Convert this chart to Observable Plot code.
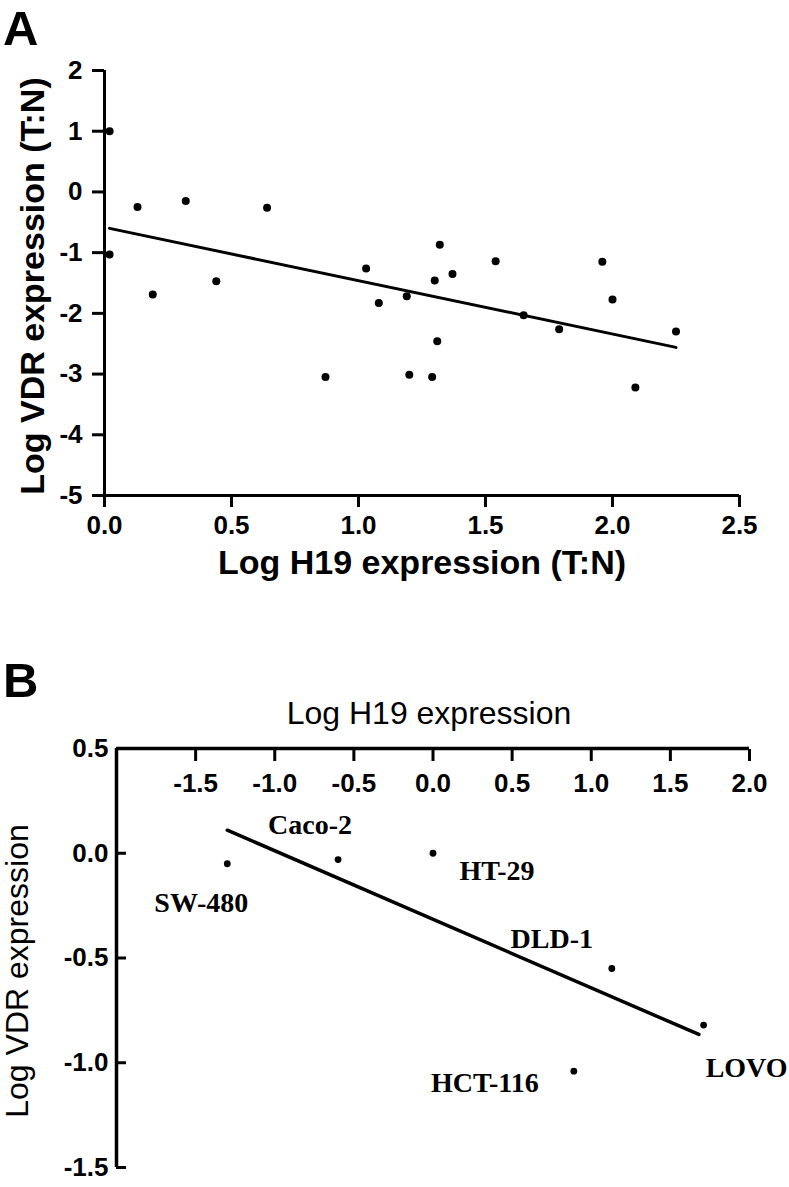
<!DOCTYPE html>
<html>
<head>
<meta charset="utf-8">
<script src="https://cdn.jsdelivr.net/npm/d3@7"></script>
<script src="https://cdn.jsdelivr.net/npm/@observablehq/plot@0.6"></script>
<style>
  body { margin: 0; background: #fff; }
  #wrap { position: relative; width: 789px; height: 1187px; font-family: "Liberation Sans", Arial, sans-serif; color: #000; }
  .panel { position: absolute; left: 0; }
  .tag { position: absolute; font-weight: bold; font-size: 49px; line-height: 1; }
</style>
</head>
<body>
<div id="wrap">
  <div id="a" class="panel" style="top:0px"></div>
  <div id="b" class="panel" style="top:600px"></div>
  <div class="tag" style="left:3px;top:4px">A</div>
  <div class="tag" style="left:3px;top:656px">B</div>
</div>
<script>
// ---------- Panel A: tumour samples ----------
const aH19 = [0.02, 0.02, 0.13, 0.19, 0.32, 0.44, 0.64, 0.87, 1.03, 1.08, 1.19, 1.20, 1.29, 1.30, 1.31, 1.32, 1.37, 1.54, 1.65, 1.79, 1.96, 2.00, 2.09, 2.25];
const aVDR = [1.00, -1.03, -0.25, -1.69, -0.15, -1.47, -0.26, -3.05, -1.26, -1.83, -1.72, -3.01, -3.05, -1.46, -2.46, -0.87, -1.35, -1.14, -2.03, -2.26, -1.15, -1.77, -3.22, -2.30];
const aFitX = [0.02, 2.25];
const aFitY = [-0.60, -2.56];
const aXTicks = [0, 0.5, 1, 1.5, 2, 2.5];
const aYTicks = [2, 1, 0, -1, -2, -3, -4, -5];
const aXLabel = "Log H19 expression (T:N)";
const aYLabel = "Log VDR expression (T:N)";

// ---------- Panel B: cell lines ----------
const cellLines = ["SW-480", "Caco-2", "HT-29", "DLD-1", "HCT-116", "LOVO"];
const bH19 = [-1.30, -0.60, 0.00, 1.13, 0.89, 1.71];
const bVDR = [-0.05, -0.03, 0.00, -0.55, -1.04, -0.82];
const bFitX = [-1.30, 1.68];
const bFitY = [0.11, -0.865];
const bXTicks = [-1.5, -1.0, -0.5, 0.0, 0.5, 1.0, 1.5, 2.0];
const bYTicks = [0.5, 0.0, -0.5, -1.0, -1.5];
const bXLabel = "Log H19 expression";
const bYLabel = "Log VDR expression";

const sans = '"Liberation Sans", Arial, sans-serif';
const serif = '"Liberation Serif", "Times New Roman", serif';

const aPts = aH19.map((x, i) => ({x, y: aVDR[i]}));
const aFit = aFitX.map((x, i) => ({x, y: aFitY[i]}));

const plotA = Plot.plot({
  width: 789, height: 600,
  marginLeft: 104, marginRight: 50, marginTop: 70, marginBottom: 105,
  x: {domain: [aXTicks[0], aXTicks[aXTicks.length - 1]]},
  y: {domain: [aYTicks[aYTicks.length - 1], aYTicks[0]]},
  style: {fontFamily: sans, color: "#000", background: "#fff", overflow: "visible"},
  marks: [
    Plot.ruleX([aXTicks[0]], {strokeWidth: 3}),
    Plot.ruleY([aYTicks[aYTicks.length - 1]], {strokeWidth: 3}),
    Plot.axisX({ticks: aXTicks, tickFormat: d => d.toFixed(1), tickSize: 12, tickPadding: 8, strokeWidth: 3,
      fontSize: 26, fontWeight: "bold", label: null}),
    Plot.axisY({ticks: aYTicks, tickFormat: d => String(d), tickSize: 12, tickPadding: 10, strokeWidth: 3,
      fontSize: 26, fontWeight: "bold", label: null}),
    Plot.line(aFit, {x: "x", y: "y", strokeWidth: 3, stroke: "#000"}),
    Plot.dot(aPts, {x: "x", y: "y", r: 4, fill: "#000", stroke: null}),
    Plot.text([aXLabel], {text: d => d, frameAnchor: "bottom", textAnchor: "middle", dy: 78, fontSize: 34, fontWeight: "bold"}),
    Plot.text([aYLabel], {text: d => d, frameAnchor: "left", textAnchor: "middle", rotate: -90, dx: -71, dy: 3, fontSize: 34, fontWeight: "bold"})
  ]
});
document.getElementById("a").appendChild(plotA);

const bPts = bH19.map((x, i) => ({x, y: bVDR[i], name: cellLines[i]}));
const bFit = bFitX.map((x, i) => ({x, y: bFitY[i]}));
const labelOffset = {
  "SW-480": [-26, 39], "Caco-2": [-28, -35], "HT-29": [64, 18],
  "DLD-1": [-60, -29], "HCT-116": [-89, 12], "LOVO": [43, 43]
};

const plotB = Plot.plot({
  width: 789, height: 587,
  marginLeft: 116, marginRight: 40, marginTop: 148, marginBottom: 20,
  x: {domain: [-2, bXTicks[bXTicks.length - 1]]},
  y: {domain: [bYTicks[bYTicks.length - 1], bYTicks[0]]},
  style: {fontFamily: sans, color: "#000", background: "#fff", overflow: "visible"},
  marks: [
    Plot.ruleX([-2], {strokeWidth: 3.5}),
    Plot.ruleY([bYTicks[0]], {strokeWidth: 3.5}),
    Plot.axisX({anchor: "top", ticks: bXTicks, tickFormat: d => d.toFixed(1), tickSize: -12, tickPadding: -13,
      lineAnchor: "top", strokeWidth: 3, fontSize: 26, fontWeight: "bold", label: null}),
    Plot.axisY({anchor: "left", ticks: bYTicks, tickFormat: d => d.toFixed(1), tickSize: -10, tickPadding: 18,
      strokeWidth: 3, fontSize: 26, fontWeight: "bold", label: null}),
    Plot.line(bFit, {x: "x", y: "y", strokeWidth: 3.5, stroke: "#000"}),
    Plot.dot(bPts, {x: "x", y: "y", r: 3.4, fill: "#000", stroke: null}),
    ...bPts.map(p => Plot.text([p], {x: "x", y: "y", text: "name", dx: labelOffset[p.name][0], dy: labelOffset[p.name][1],
      fontFamily: serif, fontWeight: "bold", fontSize: 28})),
    Plot.text([bXLabel], {text: d => d, frameAnchor: "top", textAnchor: "middle", dx: -4, dy: -47, fontSize: 32}),
    Plot.text([bYLabel], {text: d => d, frameAnchor: "left", textAnchor: "middle", rotate: -90, dx: -99, dy: 13, fontSize: 32})
  ]
});
document.getElementById("b").appendChild(plotB);
</script>
</body>
</html>
